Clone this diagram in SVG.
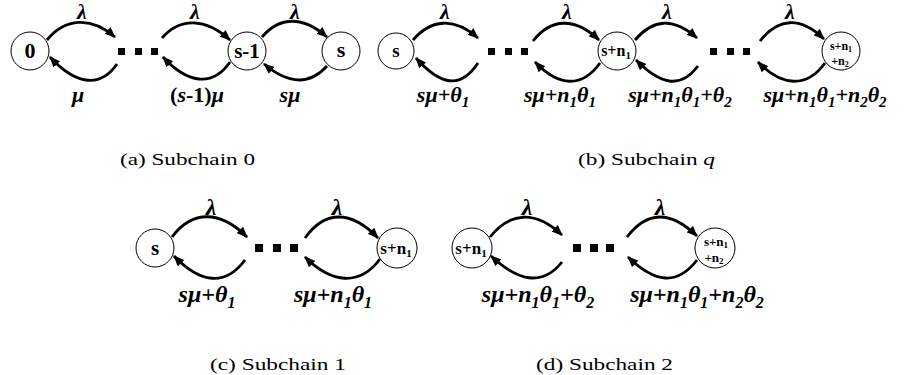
<svg xmlns="http://www.w3.org/2000/svg" width="911" height="375" viewBox="0 0 911 375">
<style>
.node circle{fill:#fff;stroke:#000;stroke-width:1}
.nl{font-family:"Liberation Serif","Times New Roman",serif;font-weight:bold;text-anchor:middle;fill:#000}
.arc{fill:none;stroke:#000;stroke-width:2.8;marker-end:url(#ah)}
.el{font-family:"Liberation Serif","Times New Roman",serif;font-weight:bold;font-style:italic;text-anchor:middle;fill:#000}
.up{font-style:normal}
.cap{font-family:"Liberation Serif","Times New Roman",serif;font-size:17px;text-anchor:middle;fill:#000}
.dot{fill:#000}
</style>
<defs>
<marker id="ah" markerUnits="userSpaceOnUse" viewBox="0 0 11 9" refX="10" refY="4.5" markerWidth="11" markerHeight="9" orient="auto">
<path d="M0,0 L11,4.5 L0,9 z" fill="#000"/>
</marker>
</defs>

<!-- Panel (a) -->
<g id="a-n0" class="node"><circle cx="30" cy="51" r="19"/><text class="nl" x="30" y="58" font-size="22">0</text></g>
<g id="a-nsm1" class="node"><circle cx="247" cy="51" r="19"/><text class="nl" x="247" y="58" font-size="21">s-1</text></g>
<g id="a-ns" class="node"><circle cx="341" cy="51" r="19"/><text class="nl" x="341" y="57" font-size="22">s</text></g>
<g id="a-dots"><rect class="dot" x="118" y="48" width="7" height="7"/><rect class="dot" x="135" y="48" width="7" height="7"/><rect class="dot" x="151" y="48" width="7" height="7"/></g>

<!-- Panel (b) -->
<g id="b-ns" class="node"><circle cx="396" cy="51" r="18"/><text class="nl" x="396" y="57" font-size="19">s</text></g>
<g id="b-nsn1" class="node"><circle cx="617" cy="51" r="19"/><text class="nl" x="616" y="56" font-size="16">s+n<tspan font-size="11" dy="3">1</tspan></text></g>
<g id="b-nsn1n2" class="node"><circle cx="841" cy="51" r="19"/><text class="nl" x="841" y="50" font-size="12">s+n<tspan font-size="8" dy="2">1</tspan></text><text class="nl" x="840" y="65" font-size="12">+n<tspan font-size="8" dy="2">2</tspan></text></g>
<g id="b-dots1"><rect class="dot" x="488" y="48" width="7" height="7"/><rect class="dot" x="505" y="48" width="7" height="7"/><rect class="dot" x="521" y="48" width="7" height="7"/></g>
<g id="b-dots2"><rect class="dot" x="710" y="48" width="7" height="7"/><rect class="dot" x="727" y="48" width="7" height="7"/><rect class="dot" x="743" y="48" width="7" height="7"/></g>

<!-- Panel (c) -->
<g id="c-ns" class="node"><circle cx="155" cy="248" r="19"/><text class="nl" x="155" y="255" font-size="21">s</text></g>
<g id="c-nsn1" class="node"><circle cx="397" cy="248" r="20"/><text class="nl" x="396" y="254" font-size="17">s+n<tspan font-size="11" dy="3">1</tspan></text></g>
<g id="c-dots"><rect class="dot" x="255" y="244" width="8" height="8"/><rect class="dot" x="273" y="244" width="8" height="8"/><rect class="dot" x="290" y="244" width="8" height="8"/></g>

<!-- Panel (d) -->
<g id="d-nsn1" class="node"><circle cx="472" cy="248" r="20"/><text class="nl" x="471" y="254" font-size="17">s+n<tspan font-size="11" dy="3">1</tspan></text></g>
<g id="d-nsn1n2" class="node"><circle cx="715" cy="248" r="20"/><text class="nl" x="716" y="246" font-size="13">s+n<tspan font-size="9" dy="2">1</tspan></text><text class="nl" x="714" y="262" font-size="13">+n<tspan font-size="9" dy="2">2</tspan></text></g>
<g id="d-dots"><rect class="dot" x="573" y="244" width="8" height="8"/><rect class="dot" x="590" y="244" width="8" height="8"/><rect class="dot" x="606" y="244" width="8" height="8"/></g>

<!-- Connectors -->
<g id="connectors">
<path class="arc" d="M47,40 C65,18 91,16 115,37"/>
<path class="arc" d="M117,64 C99,90 74,83 50,57"/>
<path class="arc" d="M162,38 C180,17 206,18 230,40"/>
<path class="arc" d="M230,62 C212,88 187,83 163,57"/>
<path class="arc" d="M262,37 C280,16 303,16 327,37"/>
<path class="arc" d="M327,66 C309,86 288,84 264,64"/>

<path class="arc" d="M413,40 C431,19 454,17 478,38"/>
<path class="arc" d="M478,63 C460,90 440,85 416,58"/>
<path class="arc" d="M533,41 C551,18 575,17 599,40"/>
<path class="arc" d="M600,63 C582,88 559,87 535,62"/>
<path class="arc" d="M635,40 C653,19 673,17 697,38"/>
<path class="arc" d="M698,66 C680,90 660,84 636,60"/>
<path class="arc" d="M760,41 C778,18 800,16 824,39"/>
<path class="arc" d="M825,63 C807,88 782,87 758,62"/>

<path class="arc" d="M172,237 C192,210 220,210 247,237"/>
<path class="arc" d="M245,260 C225,287 200,283 174,256"/>
<path class="arc" d="M305,238 C325,210 351,210 378,238"/>
<path class="arc" d="M380,259 C360,286 332,284 305,257"/>

<path class="arc" d="M490,237 C510,212 535,210 562,235"/>
<path class="arc" d="M562,262 C542,287 518,281 491,256"/>
<path class="arc" d="M627,237 C647,211 670,210 697,236"/>
<path class="arc" d="M697,260 C677,286 655,283 628,257"/>

<!-- connector labels -->
<g class="el" font-size="22">
<text x="82" y="19">λ</text>
<text x="195" y="19">λ</text>
<text x="295" y="19">λ</text>
<text x="445" y="19">λ</text>
<text x="567" y="19">λ</text>
<text x="667" y="19">λ</text>
<text x="790" y="19">λ</text>
<text x="78" y="102">μ</text>
<text x="197" y="102"><tspan class="up">(</tspan>s<tspan class="up">-1)</tspan>μ</text>
<text x="290" y="102">sμ</text>
<text x="443" y="102">sμ+θ<tspan font-size="15" dy="5">1</tspan></text>
<text x="560" y="102">sμ+n<tspan font-size="15" dy="5">1</tspan><tspan dy="-5">θ</tspan><tspan font-size="15" dy="5">1</tspan></text>
<text x="680" y="102">sμ+n<tspan font-size="15" dy="5">1</tspan><tspan dy="-5">θ</tspan><tspan font-size="15" dy="5">1</tspan><tspan dy="-5">+θ</tspan><tspan font-size="15" dy="5">2</tspan></text>
<text x="825" y="102">sμ+n<tspan font-size="15" dy="5">1</tspan><tspan dy="-5">θ</tspan><tspan font-size="15" dy="5">1</tspan><tspan dy="-5">+n</tspan><tspan font-size="15" dy="5">2</tspan><tspan dy="-5">θ</tspan><tspan font-size="15" dy="5">2</tspan></text>
</g>
<g class="el" font-size="24">
<text x="211" y="215">λ</text>
<text x="337" y="215">λ</text>
<text x="527" y="215">λ</text>
<text x="660" y="215">λ</text>
<text x="207" y="302">sμ+θ<tspan font-size="16" dy="6">1</tspan></text>
<text x="333" y="302">sμ+n<tspan font-size="16" dy="6">1</tspan><tspan dy="-6">θ</tspan><tspan font-size="16" dy="6">1</tspan></text>
<text x="538" y="302">sμ+n<tspan font-size="16" dy="6">1</tspan><tspan dy="-6">θ</tspan><tspan font-size="16" dy="6">1</tspan><tspan dy="-6">+θ</tspan><tspan font-size="16" dy="6">2</tspan></text>
<text x="697" y="302">sμ+n<tspan font-size="16" dy="6">1</tspan><tspan dy="-6">θ</tspan><tspan font-size="16" dy="6">1</tspan><tspan dy="-6">+n</tspan><tspan font-size="16" dy="6">2</tspan><tspan dy="-6">θ</tspan><tspan font-size="16" dy="6">2</tspan></text>
</g>
</g>

<!-- captions -->
<text class="cap" x="187.5" y="165" textLength="135" lengthAdjust="spacingAndGlyphs">(a) Subchain 0</text>
<text class="cap" x="646.5" y="165" textLength="137" lengthAdjust="spacingAndGlyphs">(b) Subchain <tspan font-style="italic">q</tspan></text>
<text class="cap" x="278" y="370" textLength="136" lengthAdjust="spacingAndGlyphs">(c) Subchain 1</text>
<text class="cap" x="604.5" y="370" textLength="137" lengthAdjust="spacingAndGlyphs">(d) Subchain 2</text>
</svg>
